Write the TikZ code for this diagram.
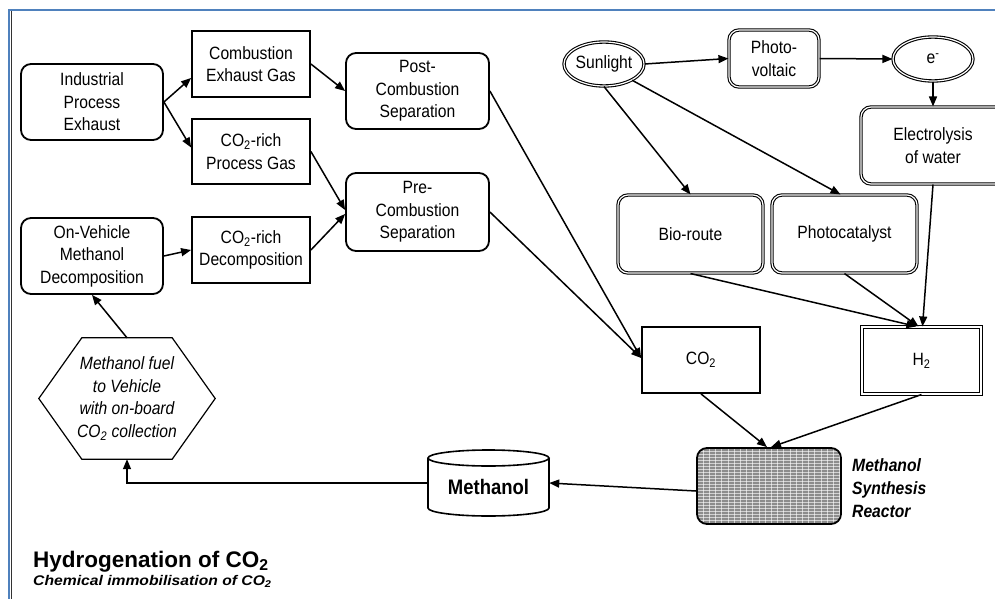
\documentclass[tikz,border=0pt]{standalone}
\usepackage{fontspec}
\setmainfont[FakeStretch=0.88]{Liberation Sans}
\newfontfamily\plainsans{Liberation Sans}
\usetikzlibrary{arrows.meta,calc,shapes.geometric}
\definecolor{frameblue}{HTML}{4F81BD}
\begin{document}
\begin{tikzpicture}[x=1pt,y=-1pt,
  every node/.style={font=\fontsize{17.8}{22.5}\selectfont, align=center, inner sep=0pt},
  sq/.style={draw, line width=1.8pt, fill=white},
  rnd/.style={draw, line width=1.8pt, rounded corners=10pt, fill=white},
  dbl/.style={draw, line width=1.1pt, double, double distance=1.2pt, fill=white},
  dblr/.style={dbl, rounded corners=10pt},
  ell/.style={dbl, ellipse},
  arr/.style={line width=1.5pt, -{Triangle[length=10pt,width=8pt]}},
  boxline/.style={line width=1.6pt},
]
\useasboundingbox (0,0) rectangle (995,599);
% frame
\draw[line width=2pt, frameblue] (9,599) -- (9,10) -- (995,10);
\draw[line width=1.4pt, black!80] (11.5,11) -- (11.5,599);

% left column
\node[rnd, minimum width=142, minimum height=76] (ind) at (92,102) {Industrial\\Process\\Exhaust};
\node[sq, minimum width=118, minimum height=66] (ceg) at (251,64) {Combustion\\Exhaust Gas};
\node[sq, minimum width=118, minimum height=65] (cpg) at (251,151.5) {CO\textsubscript{2}-rich\\Process Gas};
\node[rnd, minimum width=142, minimum height=76] (onv) at (92,256) {On-Vehicle\\Methanol\\Decomposition};
\node[sq, minimum width=118, minimum height=66] (cdec) at (251,250) {CO\textsubscript{2}-rich\\Decomposition};
\node[rnd, minimum width=143, minimum height=76] (post) at (417.5,91) {Post-\\Combustion\\Separation};
\node[rnd, minimum width=143, minimum height=78] (pre) at (417.5,212) {Pre-\\Combustion\\Separation};

% right part
\node[ell, minimum width=78, minimum height=44] (sun) at (604,64) {Sunlight};
\node[dblr, minimum width=90, minimum height=57] (pv) at (774,58.5) {Photo-\\voltaic};
\node[ell, minimum width=80, minimum height=44] (el) at (933,59) {e\textsuperscript{-}};
\node[dblr, minimum width=144, minimum height=77] (elec) at (933,145.5) {Electrolysis\\of water};
\node[dblr, minimum width=145, minimum height=78] (bio) at (690.5,234) {Bio-route};
\node[dblr, minimum width=145, minimum height=78] (pc) at (844.5,234) {Photocatalyst};
\node[sq, minimum width=118, minimum height=66] (co2) at (701,360) {CO\textsubscript{2}};
\node[dbl, minimum width=119, minimum height=67] (h2) at (921.5,360.5) {H\textsubscript{2}};

% reactor
\node[draw, line width=1.8pt, rounded corners=10pt, fill=black!45, minimum width=144, minimum height=76,
  path picture={
    \foreach \k in {1,...,26} \draw[white, line width=0.6pt, opacity=0.6]
      ([yshift=-\k*3pt]path picture bounding box.north west) -- ([yshift=-\k*3pt]path picture bounding box.north east);
    \foreach \k in {1,...,24} \draw[white, line width=0.9pt, opacity=0.6]
      ([xshift=\k*6.2pt]path picture bounding box.north west) -- ([xshift=\k*6.2pt]path picture bounding box.south west);
  }] (reac) at (769,486) {};
\node[anchor=west, align=left, font=\fontsize{17.8}{23}\selectfont\bfseries\itshape] (reaclab) at (852,488) {Methanol\\Synthesis\\Reactor};

% methanol cylinder
\node[minimum width=121, minimum height=66] (meth) at (488.5,483) {};
\draw[boxline, fill=white] ($(meth.center)+(-60.5,-25)$) -- ($(meth.center)+(-60.5,25)$)
  .. controls ($(meth.center)+(-60.5,29.4)$) and ($(meth.center)+(-33.4,33)$) .. ($(meth.center)+(0,33)$)
  .. controls ($(meth.center)+(33.4,33)$) and ($(meth.center)+(60.5,29.4)$) .. ($(meth.center)+(60.5,25)$)
  -- ($(meth.center)+(60.5,-25)$);
\draw[boxline, fill=white] ($(meth.center)+(0,-25)$) ellipse [x radius=60.5, y radius=8];
\node[font=\fontsize{21}{24}\selectfont\bfseries] (methtxt) at ($(meth.center)+(0,4)$) {Methanol};

% hexagon
\node[minimum width=176, minimum height=121, font=\fontsize{17.8}{22.5}\selectfont\itshape] (hex) at (127,398.5)
  {Methanol fuel\\to Vehicle\\with on-board\\CO\textsubscript{2} collection};
\draw[line width=1.2pt] ($(hex.north west)+(43,0)$) -- ($(hex.north east)+(-43,0)$) -- (hex.east)
  -- ($(hex.south east)+(-43,0)$) -- ($(hex.south west)+(43,0)$) -- (hex.west) -- cycle;

% titles
\node[anchor=base west, font=\plainsans\fontsize{22.5}{27}\selectfont\bfseries] (title) at (33,567) {Hydrogenation of CO\textsubscript{2}};
\node[anchor=base west, font=\plainsans\fontsize{14}{16}\selectfont\bfseries\itshape] (subtitle) at (33,585) {\scalebox{1.12}[1]{Chemical immobilisation of CO\textsubscript{2}}};

% connectors
\draw[arr] (ind.east) -- ([yshift=-14pt]ceg.west);
\draw[arr] (ind.east) -- ([yshift=4pt]cpg.west);
\draw[arr] (ceg.east) -- (post.west);
\draw[arr] (cpg.east) -- ([yshift=2pt]pre.west);
\draw[arr] (cdec.east) -- ([yshift=-2pt]pre.west);
\draw[arr] (onv.east) -- (cdec.west);
\draw[arr] (post.east) -- ([yshift=2pt]co2.west);
\draw[arr] (pre.east) -- ([yshift=2pt]co2.west);
\draw[arr] (sun.east) -- (pv.west);
\draw[arr] (sun.south) -- (bio.north);
\draw[arr] (sun.-30) -- ([xshift=-4pt]pc.north);
\draw[arr] (pv.east) -- (el.west);
\draw[arr] (el.south) -- (elec.north);
\draw[arr] (elec.south) -- ([xshift=1pt]h2.north);
\draw[arr] (bio.south) -- ([xshift=-5pt]h2.north);
\draw[arr] (pc.south) -- ([xshift=-3pt]h2.north);
\draw[arr] (co2.south) -- ([xshift=-2pt]reac.north);
\draw[arr] (h2.south) -- ([xshift=2pt]reac.north);
\draw[arr] ([yshift=-5pt]reac.west) -- (meth.east);
\draw[arr] (meth.west) -| (hex.south);
\draw[arr] (hex.north) -- (onv.south);
\end{tikzpicture}
\end{document}
